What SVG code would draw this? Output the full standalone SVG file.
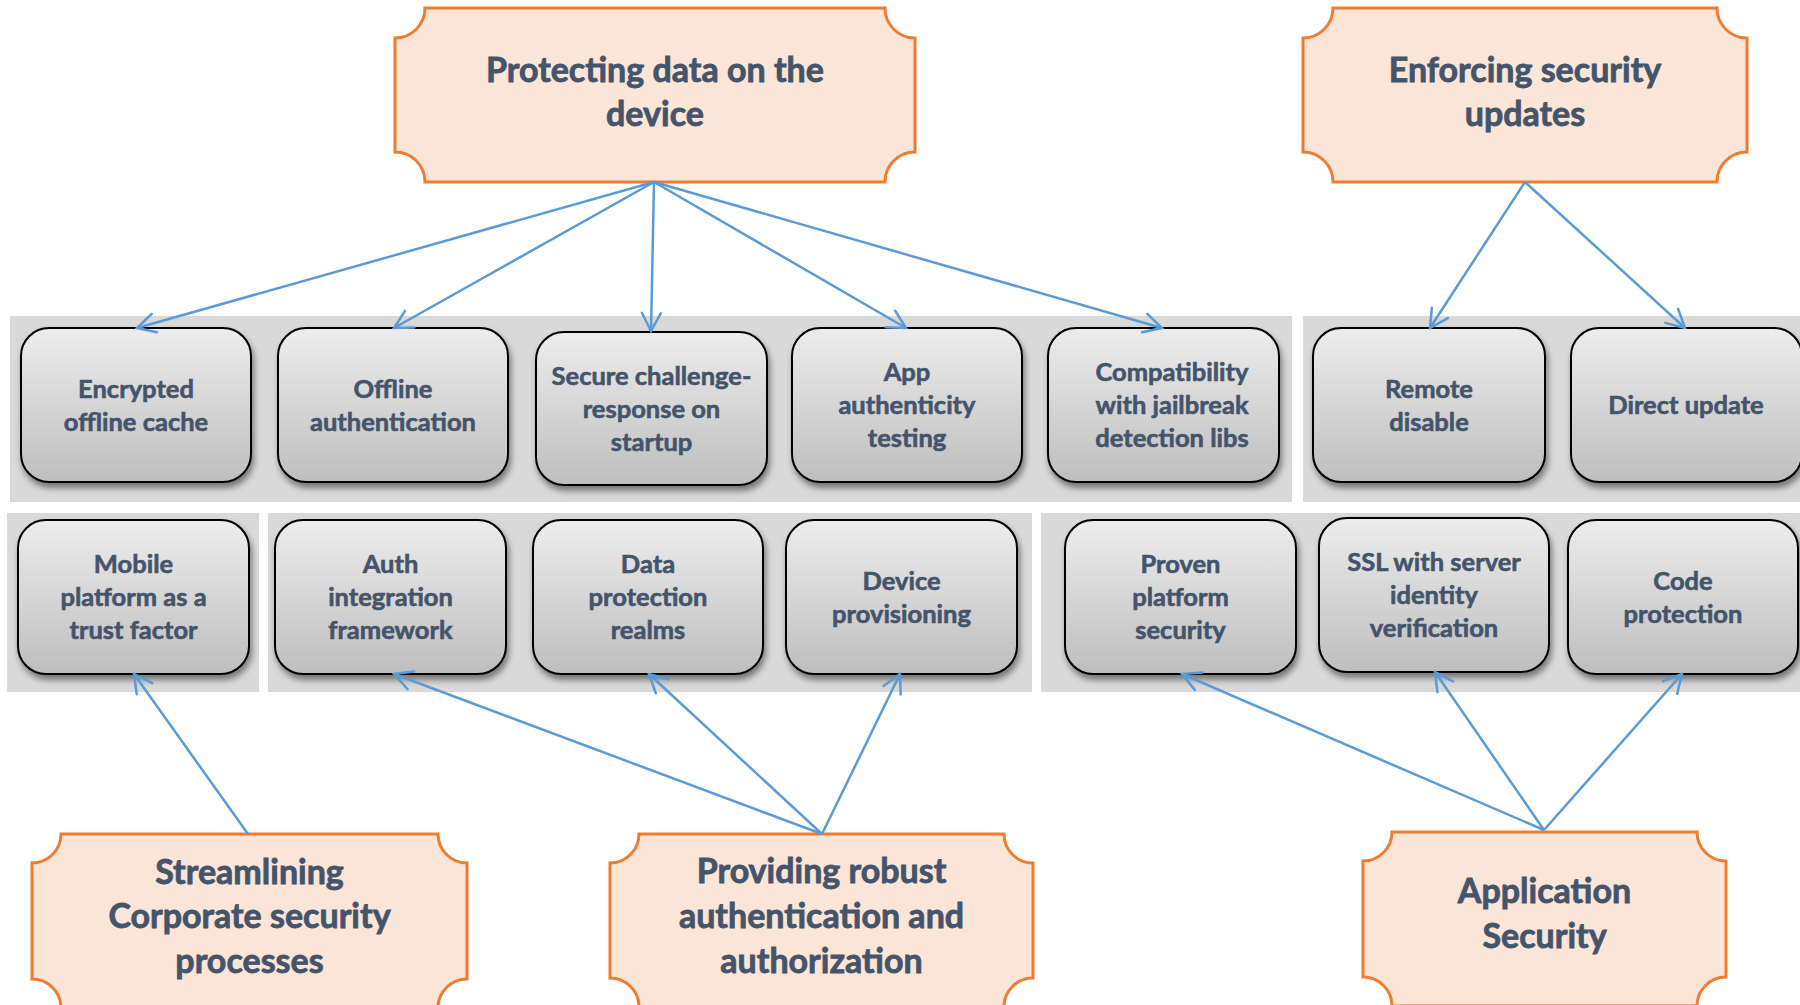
<svg xmlns="http://www.w3.org/2000/svg" width="1800" height="1005" viewBox="0 0 1800 1005">
<defs>
<linearGradient id="ng" x1="0" y1="0" x2="0" y2="1">
<stop offset="0" stop-color="#EDEDED"/>
<stop offset="1" stop-color="#BEBEBE"/>
</linearGradient>
<filter id="sh" x="-10%" y="-10%" width="125%" height="130%">
<feDropShadow dx="2" dy="5" stdDeviation="3" flood-color="#000" flood-opacity="0.45"/>
</filter>
<marker id="ah" viewBox="-22 -12 24 24" markerWidth="24" markerHeight="24" refX="0" refY="0" orient="auto" markerUnits="userSpaceOnUse">
<path d="M-18,-9.5 L0,0 L-18,9.5" fill="none" stroke="#5B9BD5" stroke-width="2.5" stroke-linecap="round"/>
</marker>
</defs>
<style>
.panel{fill:#D9D9D9}
.node rect{fill:url(#ng);stroke:#000;stroke-width:2;filter:url(#sh)}
.node text{font-family:Lato,"Liberation Sans",sans-serif;font-weight:bold;font-size:25.5px;fill:#44546A;stroke:#44546A;stroke-width:0.6;text-anchor:middle}
.title path{fill:#FBE5D6;stroke:#ED7D31;stroke-width:3}
.title text{font-family:Lato,"Liberation Sans",sans-serif;font-weight:bold;font-size:34px;fill:#44546A;stroke:#44546A;stroke-width:0.8;text-anchor:middle}
.conn line{stroke:#5B9BD5;stroke-width:2.5;marker-end:url(#ah)}
</style>
<rect width="1800" height="1005" fill="#FFFFFF"/>
<g id="panels">
<rect class="panel" x="10" y="316" width="1282" height="186"/>
<rect class="panel" x="1303" y="316" width="497" height="186"/>
<rect class="panel" x="7" y="513" width="252" height="179"/>
<rect class="panel" x="268" y="513" width="764" height="179"/>
<rect class="panel" x="1041" y="513" width="759" height="179"/>
</g>
<g id="title-protecting" class="title">
<path d="M425,8 L885,8 A30,30 0 0 0 915,38 L915,152 A30,30 0 0 0 885,182 L425,182 A30,30 0 0 0 395,152 L395,38 A30,30 0 0 0 425,8 Z"/>
<text x="655" y="82">Protecting data on the</text>
<text x="655" y="126">device</text>
</g>
<g id="title-enforcing" class="title">
<path d="M1333,8 L1717,8 A30,30 0 0 0 1747,38 L1747,152 A30,30 0 0 0 1717,182 L1333,182 A30,30 0 0 0 1303,152 L1303,38 A30,30 0 0 0 1333,8 Z"/>
<text x="1525" y="82">Enforcing security</text>
<text x="1525" y="126">updates</text>
</g>
<g id="title-streamlining" class="title">
<path d="M61,834 L438,834 A29,29 0 0 0 467,863 L467,979 A29,29 0 0 0 438,1008 L61,1008 A29,29 0 0 0 32,979 L32,863 A29,29 0 0 0 61,834 Z"/>
<text x="249.5" y="884">Streamlining</text>
<text x="249.5" y="928">Corporate security</text>
<text x="249.5" y="973">processes</text>
</g>
<g id="title-providing" class="title">
<path d="M639,834 L1004,834 A29,29 0 0 0 1033,863 L1033,978 A29,29 0 0 0 1004,1007 L639,1007 A29,29 0 0 0 610,978 L610,863 A29,29 0 0 0 639,834 Z"/>
<text x="821.5" y="883">Providing robust</text>
<text x="821.5" y="928">authentication and</text>
<text x="821.5" y="973">authorization</text>
</g>
<g id="title-application" class="title">
<path d="M1392,832 L1697,832 A29,29 0 0 0 1726,861 L1726,977 A29,29 0 0 0 1697,1006 L1392,1006 A29,29 0 0 0 1363,977 L1363,861 A29,29 0 0 0 1392,832 Z"/>
<text x="1544.5" y="903">Application</text>
<text x="1544.5" y="948">Security</text>
</g>
<g id="node-encrypted" class="node">
<rect x="21" y="328" width="230" height="154" rx="28"/>
<text x="136" y="398">Encrypted</text>
<text x="136" y="431">offline cache</text>
</g>
<g id="node-offline" class="node">
<rect x="278" y="328" width="230" height="154" rx="28"/>
<text x="393" y="398">Offline</text>
<text x="393" y="431">authentication</text>
</g>
<g id="node-secure" class="node">
<rect x="536" y="332" width="231" height="153" rx="28"/>
<text x="651.5" y="384.5">Secure challenge-</text>
<text x="651.5" y="417.5">response on</text>
<text x="651.5" y="450.5">startup</text>
</g>
<g id="node-app" class="node">
<rect x="792" y="328" width="230" height="154" rx="28"/>
<text x="907" y="381">App</text>
<text x="907" y="414">authenticity</text>
<text x="907" y="447">testing</text>
</g>
<g id="node-compat" class="node">
<rect x="1048" y="328" width="231" height="154" rx="28"/>
<text x="1172" y="381">Compatibility</text>
<text x="1172" y="414">with jailbreak</text>
<text x="1172" y="447">detection libs</text>
</g>
<g id="node-remote" class="node">
<rect x="1313" y="328" width="232" height="154" rx="28"/>
<text x="1429" y="398">Remote</text>
<text x="1429" y="431">disable</text>
</g>
<g id="node-direct" class="node">
<rect x="1571" y="328" width="231" height="154" rx="28"/>
<text x="1686" y="414">Direct update</text>
</g>
<g id="node-mobile" class="node">
<rect x="18" y="520" width="231" height="154" rx="28"/>
<text x="133.5" y="573">Mobile</text>
<text x="133.5" y="606">platform as a</text>
<text x="133.5" y="639">trust factor</text>
</g>
<g id="node-auth" class="node">
<rect x="275" y="520" width="231" height="154" rx="28"/>
<text x="390.5" y="573">Auth</text>
<text x="390.5" y="606">integration</text>
<text x="390.5" y="639">framework</text>
</g>
<g id="node-data" class="node">
<rect x="533" y="520" width="230" height="154" rx="28"/>
<text x="648" y="573">Data</text>
<text x="648" y="606">protection</text>
<text x="648" y="639">realms</text>
</g>
<g id="node-device" class="node">
<rect x="786" y="520" width="231" height="154" rx="28"/>
<text x="901.5" y="589.5">Device</text>
<text x="901.5" y="622.5">provisioning</text>
</g>
<g id="node-proven" class="node">
<rect x="1065" y="520" width="231" height="154" rx="28"/>
<text x="1180.5" y="573">Proven</text>
<text x="1180.5" y="606">platform</text>
<text x="1180.5" y="639">security</text>
</g>
<g id="node-ssl" class="node">
<rect x="1319" y="518" width="230" height="154" rx="28"/>
<text x="1434" y="571">SSL with server</text>
<text x="1434" y="604">identity</text>
<text x="1434" y="637">verification</text>
</g>
<g id="node-code" class="node">
<rect x="1568" y="520" width="230" height="154" rx="28"/>
<text x="1683" y="589.5">Code</text>
<text x="1683" y="622.5">protection</text>
</g>
<g id="connectors" class="conn">
<line x1="654" y1="182" x2="137" y2="328"/>
<line x1="654" y1="182" x2="394" y2="328"/>
<line x1="654" y1="182" x2="651" y2="331"/>
<line x1="654" y1="182" x2="906" y2="328"/>
<line x1="654" y1="182" x2="1162" y2="328"/>
<line x1="1525" y1="182" x2="1430" y2="328"/>
<line x1="1525" y1="182" x2="1685" y2="328"/>
<line x1="248" y1="834" x2="134" y2="674"/>
<line x1="822" y1="834" x2="394" y2="674"/>
<line x1="822" y1="834" x2="649" y2="674"/>
<line x1="822" y1="834" x2="900" y2="674"/>
<line x1="1544" y1="830" x2="1182" y2="674"/>
<line x1="1544" y1="830" x2="1435" y2="672"/>
<line x1="1544" y1="830" x2="1682" y2="674"/>
</g>
</svg>
